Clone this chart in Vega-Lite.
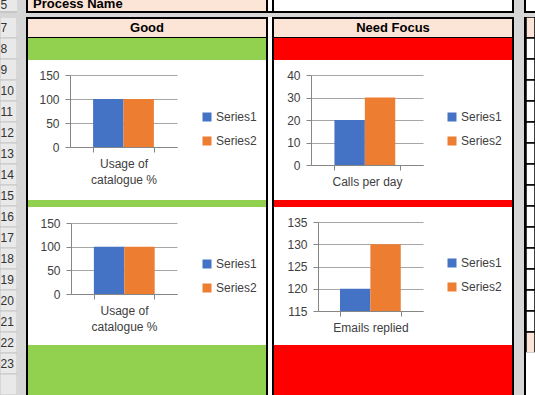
{
  "$schema": "https://vega.github.io/schema/vega-lite/v6.json",
  "padding": 0,
  "background": "white",
  "spacing": 0,
  "config": {
    "font": "Liberation Sans",
    "view": {"stroke": null},
    "concat": {"spacing": 0},
    "axis": {"domainColor": "#868686", "tickColor": "#868686", "tickSize": 5, "labelColor": "#404040", "labelFontSize": 12, "gridColor": "#A6A6A6", "labelFont": "Liberation Sans"},
    "legend": {"labelFont": "Liberation Sans"}
  },
  "resolve": {"scale": {"color": "independent"}, "legend": {"color": "independent"}},
  "vconcat": [
    {
      "spacing": 0,
      "hconcat": [
        {"width": 17, "height": 11, "view": {"fill": "#E9E9E9"}, "data": {"values": [{"label": "5"}]}, "mark": {"type": "text", "align": "left", "dx": -8, "baseline": "alphabetic", "dy": 3, "fontSize": 12, "color": "#333333", "clip": true}, "encoding": {"text": {"field": "label"}}},
        {"width": 9, "height": 11, "view": {"fill": "#D6D6D6"}, "data": {"values": [{}]}, "mark": {"type": "text", "text": "", "fontSize": 0, "clip": true}, "encoding": {}},
        {"width": 2, "height": 11, "view": {"fill": "black"}, "data": {"values": [{}]}, "mark": {"type": "text", "text": "", "fontSize": 0, "clip": true}, "encoding": {}},
        {"width": 238, "height": 11, "view": {"fill": "#FCE4D6"}, "data": {"values": [{"label": "Process Name"}]}, "mark": {"type": "text", "align": "left", "dx": -114, "baseline": "alphabetic", "dy": 2.5, "fontSize": 13, "fontWeight": "bold", "color": "black", "clip": true}, "encoding": {"text": {"field": "label"}}},
        {"width": 2, "height": 11, "view": {"fill": "black"}, "data": {"values": [{}]}, "mark": {"type": "text", "text": "", "fontSize": 0, "clip": true}, "encoding": {}},
        {"width": 4, "height": 11, "view": {"fill": "white"}, "data": {"values": [{}]}, "mark": {"type": "text", "text": "", "fontSize": 0, "clip": true}, "encoding": {}},
        {"width": 2, "height": 11, "view": {"fill": "black"}, "data": {"values": [{}]}, "mark": {"type": "text", "text": "", "fontSize": 0, "clip": true}, "encoding": {}},
        {"width": 238, "height": 11, "view": {"fill": "white"}, "data": {"values": [{}]}, "mark": {"type": "text", "text": "", "fontSize": 0, "clip": true}, "encoding": {}},
        {"width": 2, "height": 11, "view": {"fill": "black"}, "data": {"values": [{}]}, "mark": {"type": "text", "text": "", "fontSize": 0, "clip": true}, "encoding": {}},
        {"width": 10, "height": 11, "view": {"fill": "#D6D6D6"}, "data": {"values": [{}]}, "mark": {"type": "text", "text": "", "fontSize": 0, "clip": true}, "encoding": {}},
        {"width": 2, "height": 11, "view": {"fill": "black"}, "data": {"values": [{}]}, "mark": {"type": "text", "text": "", "fontSize": 0, "clip": true}, "encoding": {}},
        {"width": 9, "height": 11, "view": {"fill": "white"}, "data": {"values": [{}]}, "mark": {"type": "text", "text": "", "fontSize": 0, "clip": true}, "encoding": {}}
      ]
    },
    {
      "spacing": 0,
      "hconcat": [
        {"width": 17, "height": 2, "view": {"fill": "#C6C6C6"}, "data": {"values": [{}]}, "mark": {"type": "text", "text": "", "fontSize": 0, "clip": true}, "encoding": {}},
        {"width": 9, "height": 2, "view": {"fill": "#D6D6D6"}, "data": {"values": [{}]}, "mark": {"type": "text", "text": "", "fontSize": 0, "clip": true}, "encoding": {}},
        {"width": 488, "height": 2, "view": {"fill": "black"}, "data": {"values": [{}]}, "mark": {"type": "text", "text": "", "fontSize": 0, "clip": true}, "encoding": {}},
        {"width": 10, "height": 2, "view": {"fill": "#D6D6D6"}, "data": {"values": [{}]}, "mark": {"type": "text", "text": "", "fontSize": 0, "clip": true}, "encoding": {}},
        {"width": 11, "height": 2, "view": {"fill": "black"}, "data": {"values": [{}]}, "mark": {"type": "text", "text": "", "fontSize": 0, "clip": true}, "encoding": {}}
      ]
    },
    {"width": 535, "height": 4, "view": {"fill": "#D6D6D6"}, "data": {"values": [{}]}, "mark": {"type": "text", "text": "", "fontSize": 0, "clip": true}, "encoding": {}},
    {
      "spacing": 0,
      "resolve": {"scale": {"color": "independent"}, "legend": {"color": "independent"}},
      "hconcat": [
        {
          "width": 17, "height": 378,
          "data": {"values": [
            {"row": 7, "label": "7"}, {"row": 8, "label": "8"}, {"row": 9, "label": "9"}, {"row": 10, "label": "10"},
            {"row": 11, "label": "11"}, {"row": 12, "label": "12"}, {"row": 13, "label": "13"}, {"row": 14, "label": "14"},
            {"row": 15, "label": "15"}, {"row": 16, "label": "16"}, {"row": 17, "label": "17"}, {"row": 18, "label": "18"},
            {"row": 19, "label": "19"}, {"row": 20, "label": "20"}, {"row": 21, "label": "21"}, {"row": 22, "label": "22"},
            {"row": 23, "label": "23"}, {"row": 24, "label": ""}
          ]},
          "encoding": {"y": {"field": "row", "type": "ordinal", "axis": null, "scale": {"paddingInner": 0, "paddingOuter": 0}}},
          "layer": [
            {"mark": {"type": "rect", "fill": "#E9E9E9", "stroke": "#C6C6C6", "strokeWidth": 1, "clip": true}},
            {"mark": {"type": "text", "align": "left", "dx": -8, "fontSize": 12, "color": "#333333", "clip": true}, "encoding": {"text": {"field": "label"}}}
          ]
        },
        {"width": 9, "height": 378, "view": {"fill": "#D6D6D6"}, "data": {"values": [{}]}, "mark": {"type": "text", "text": "", "fontSize": 0, "clip": true}, "encoding": {}},
        {"width": 2, "height": 378, "view": {"fill": "black"}, "data": {"values": [{}]}, "mark": {"type": "text", "text": "", "fontSize": 0, "clip": true}, "encoding": {}},
        {
          "spacing": 0,
          "resolve": {"scale": {"color": "independent"}, "legend": {"color": "independent"}},
          "vconcat": [
            {"width": 238, "height": 2, "view": {"fill": "black"}, "data": {"values": [{}]}, "mark": {"type": "text", "text": "", "fontSize": 0, "clip": true}, "encoding": {}},
            {"width": 238, "height": 18, "view": {"fill": "#FCE4D6"}, "data": {"values": [{"label": "Good"}]}, "mark": {"type": "text", "fontSize": 13, "fontWeight": "bold", "color": "black", "clip": true}, "encoding": {"text": {"field": "label"}}},
            {"width": 238, "height": 1, "view": {"fill": "black"}, "data": {"values": [{}]}, "mark": {"type": "text", "text": "", "fontSize": 0, "clip": true}, "encoding": {}},
            {"width": 238, "height": 22, "view": {"fill": "#92D050"}, "data": {"values": [{}]}, "mark": {"type": "text", "text": "", "fontSize": 0, "clip": true}, "encoding": {}},
            {
              "width": 238, "height": 140,
              "view": {"fill": "white"},
              "data": {"values": [
                {"metric": "Usage of catalogue %", "series": "Series1", "value": 100},
                {"metric": "Usage of catalogue %", "series": "Series2", "value": 100}
              ]},
              "mark": {"type": "bar"},
              "encoding": {
                "x": {"field": "metric", "type": "nominal", "title": null, "scale": {"range": [42, 149], "paddingInner": 0, "paddingOuter": 0.38}, "axis": {"offset": -53, "tickBand": "extent", "labelAngle": 0, "labelPadding": 6, "labelLineHeight": 16.5, "labelExpr": "datum.label == 'Usage of catalogue %' ? ['Usage of', 'catalogue %'] : datum.label"}},
                "xOffset": {"field": "series", "type": "nominal", "scale": {"paddingInner": 0, "paddingOuter": 0}},
                "y": {"field": "value", "type": "quantitative", "title": null, "scale": {"domain": [0, 150], "range": [87, 15], "nice": false}, "axis": {"offset": -42, "values": [0, 50, 100, 150], "grid": true, "labelPadding": 6}},
                "color": {"field": "series", "type": "nominal", "scale": {"domain": ["Series1", "Series2"], "range": ["#4472C4", "#ED7D31"]}, "legend": {"orient": "none", "legendX": 173, "legendY": 51, "title": null, "symbolType": "square", "symbolSize": 81, "symbolStrokeWidth": 0, "labelFontSize": 12, "labelColor": "#404040", "rowPadding": 12, "labelOffset": 3, "padding": 0}}
              }
            },
            {"width": 238, "height": 7, "view": {"fill": "#92D050"}, "data": {"values": [{}]}, "mark": {"type": "text", "text": "", "fontSize": 0, "clip": true}, "encoding": {}},
            {
              "width": 238, "height": 138,
              "view": {"fill": "white"},
              "data": {"values": [
                {"metric": "Usage of catalogue %", "series": "Series1", "value": 100},
                {"metric": "Usage of catalogue %", "series": "Series2", "value": 100}
              ]},
              "mark": {"type": "bar"},
              "encoding": {
                "x": {"field": "metric", "type": "nominal", "title": null, "scale": {"range": [43, 149], "paddingInner": 0, "paddingOuter": 0.38}, "axis": {"offset": -51, "tickBand": "extent", "labelAngle": 0, "labelPadding": 6, "labelLineHeight": 16.5, "labelExpr": "datum.label == 'Usage of catalogue %' ? ['Usage of', 'catalogue %'] : datum.label"}},
                "xOffset": {"field": "series", "type": "nominal", "scale": {"paddingInner": 0, "paddingOuter": 0}},
                "y": {"field": "value", "type": "quantitative", "title": null, "scale": {"domain": [0, 150], "range": [87, 16], "nice": false}, "axis": {"offset": -43, "values": [0, 50, 100, 150], "grid": true, "labelPadding": 6}},
                "color": {"field": "series", "type": "nominal", "scale": {"domain": ["Series1", "Series2"], "range": ["#4472C4", "#ED7D31"]}, "legend": {"orient": "none", "legendX": 173, "legendY": 51, "title": null, "symbolType": "square", "symbolSize": 81, "symbolStrokeWidth": 0, "labelFontSize": 12, "labelColor": "#404040", "rowPadding": 12, "labelOffset": 3, "padding": 0}}
              }
            },
            {"width": 238, "height": 50, "view": {"fill": "#92D050"}, "data": {"values": [{}]}, "mark": {"type": "text", "text": "", "fontSize": 0, "clip": true}, "encoding": {}}
          ]
        },
        {"width": 2, "height": 378, "view": {"fill": "black"}, "data": {"values": [{}]}, "mark": {"type": "text", "text": "", "fontSize": 0, "clip": true}, "encoding": {}},
        {"width": 4, "height": 378, "view": {"fill": "white"}, "data": {"values": [{}]}, "mark": {"type": "text", "text": "", "fontSize": 0, "clip": true}, "encoding": {}},
        {"width": 2, "height": 378, "view": {"fill": "black"}, "data": {"values": [{}]}, "mark": {"type": "text", "text": "", "fontSize": 0, "clip": true}, "encoding": {}},
        {
          "spacing": 0,
          "resolve": {"scale": {"color": "independent"}, "legend": {"color": "independent"}},
          "vconcat": [
            {"width": 238, "height": 2, "view": {"fill": "black"}, "data": {"values": [{}]}, "mark": {"type": "text", "text": "", "fontSize": 0, "clip": true}, "encoding": {}},
            {"width": 238, "height": 18, "view": {"fill": "#FCE4D6"}, "data": {"values": [{"label": "Need Focus"}]}, "mark": {"type": "text", "fontSize": 13, "fontWeight": "bold", "color": "black", "clip": true}, "encoding": {"text": {"field": "label"}}},
            {"width": 238, "height": 1, "view": {"fill": "black"}, "data": {"values": [{}]}, "mark": {"type": "text", "text": "", "fontSize": 0, "clip": true}, "encoding": {}},
            {"width": 238, "height": 22, "view": {"fill": "#FF0000"}, "data": {"values": [{}]}, "mark": {"type": "text", "text": "", "fontSize": 0, "clip": true}, "encoding": {}},
            {
              "width": 238, "height": 140,
              "view": {"fill": "white"},
              "data": {"values": [
                {"metric": "Calls per day", "series": "Series1", "value": 20},
                {"metric": "Calls per day", "series": "Series2", "value": 30}
              ]},
              "mark": {"type": "bar"},
              "encoding": {
                "x": {"field": "metric", "type": "nominal", "title": null, "scale": {"range": [37, 149], "paddingInner": 0, "paddingOuter": 0.36}, "axis": {"offset": -35, "tickBand": "extent", "labelAngle": 0, "labelPadding": 6}},
                "xOffset": {"field": "series", "type": "nominal", "scale": {"paddingInner": 0, "paddingOuter": 0}},
                "y": {"field": "value", "type": "quantitative", "title": null, "scale": {"domain": [0, 40], "range": [105, 15], "nice": false}, "axis": {"offset": -37, "values": [0, 10, 20, 30, 40], "grid": true, "labelPadding": 6}},
                "color": {"field": "series", "type": "nominal", "scale": {"domain": ["Series1", "Series2"], "range": ["#4472C4", "#ED7D31"]}, "legend": {"orient": "none", "legendX": 172, "legendY": 51, "title": null, "symbolType": "square", "symbolSize": 81, "symbolStrokeWidth": 0, "labelFontSize": 12, "labelColor": "#404040", "rowPadding": 12, "labelOffset": 3, "padding": 0}}
              }
            },
            {"width": 238, "height": 7, "view": {"fill": "#FF0000"}, "data": {"values": [{}]}, "mark": {"type": "text", "text": "", "fontSize": 0, "clip": true}, "encoding": {}},
            {
              "width": 238, "height": 138,
              "view": {"fill": "white"},
              "data": {"values": [
                {"metric": "Emails replied", "series": "Series1", "value": 120},
                {"metric": "Emails replied", "series": "Series2", "value": 130}
              ]},
              "mark": {"type": "bar"},
              "encoding": {
                "x": {"field": "metric", "type": "nominal", "title": null, "scale": {"range": [44, 149], "paddingInner": 0, "paddingOuter": 0.36}, "axis": {"offset": -34, "tickBand": "extent", "labelAngle": 0, "labelPadding": 6}},
                "xOffset": {"field": "series", "type": "nominal", "scale": {"paddingInner": 0, "paddingOuter": 0}},
                "y": {"field": "value", "type": "quantitative", "title": null, "scale": {"domain": [115, 135], "range": [104, 15], "nice": false, "zero": false}, "axis": {"offset": -44, "values": [115, 120, 125, 130, 135], "grid": true, "labelPadding": 6}},
                "y2": {"datum": 115},
                "color": {"field": "series", "type": "nominal", "scale": {"domain": ["Series1", "Series2"], "range": ["#4472C4", "#ED7D31"]}, "legend": {"orient": "none", "legendX": 172, "legendY": 50, "title": null, "symbolType": "square", "symbolSize": 81, "symbolStrokeWidth": 0, "labelFontSize": 12, "labelColor": "#404040", "rowPadding": 12, "labelOffset": 3, "padding": 0}}
              }
            },
            {"width": 238, "height": 50, "view": {"fill": "#FF0000"}, "data": {"values": [{}]}, "mark": {"type": "text", "text": "", "fontSize": 0, "clip": true}, "encoding": {}}
          ]
        },
        {"width": 2, "height": 378, "view": {"fill": "black"}, "data": {"values": [{}]}, "mark": {"type": "text", "text": "", "fontSize": 0, "clip": true}, "encoding": {}},
        {"width": 10, "height": 378, "view": {"fill": "#D6D6D6"}, "data": {"values": [{}]}, "mark": {"type": "text", "text": "", "fontSize": 0, "clip": true}, "encoding": {}},
        {"width": 2, "height": 378, "view": {"fill": "black"}, "data": {"values": [{}]}, "mark": {"type": "text", "text": "", "fontSize": 0, "clip": true}, "encoding": {}},
        {
          "width": 9, "height": 378,
          "data": {"values": [
            {"row": 7, "kind": "header"}, {"row": 8, "kind": "blank"}, {"row": 9, "kind": "blank"}, {"row": 10, "kind": "blank"},
            {"row": 11, "kind": "blank"}, {"row": 12, "kind": "blank"}, {"row": 13, "kind": "blank"}, {"row": 14, "kind": "blank"},
            {"row": 15, "kind": "blank"}, {"row": 16, "kind": "blank"}, {"row": 17, "kind": "blank"}, {"row": 18, "kind": "blank"},
            {"row": 19, "kind": "blank"}, {"row": 20, "kind": "blank"}, {"row": 21, "kind": "blank"}, {"row": 22, "kind": "header"},
            {"row": 23, "kind": "none"}, {"row": 24, "kind": "none"}
          ]},
          "mark": {"type": "rect", "strokeWidth": 1.5, "clip": true},
          "encoding": {
            "y": {"field": "row", "type": "ordinal", "axis": null, "scale": {"paddingInner": 0, "paddingOuter": 0}},
            "fill": {"field": "kind", "type": "nominal", "legend": null, "scale": {"domain": ["header", "blank", "none"], "range": ["#FCE4D6", "white", "white"]}},
            "stroke": {"field": "kind", "type": "nominal", "legend": null, "scale": {"domain": ["header", "blank", "none"], "range": ["black", "black", "white"]}}
          }
        }
      ]
    }
  ]
}
